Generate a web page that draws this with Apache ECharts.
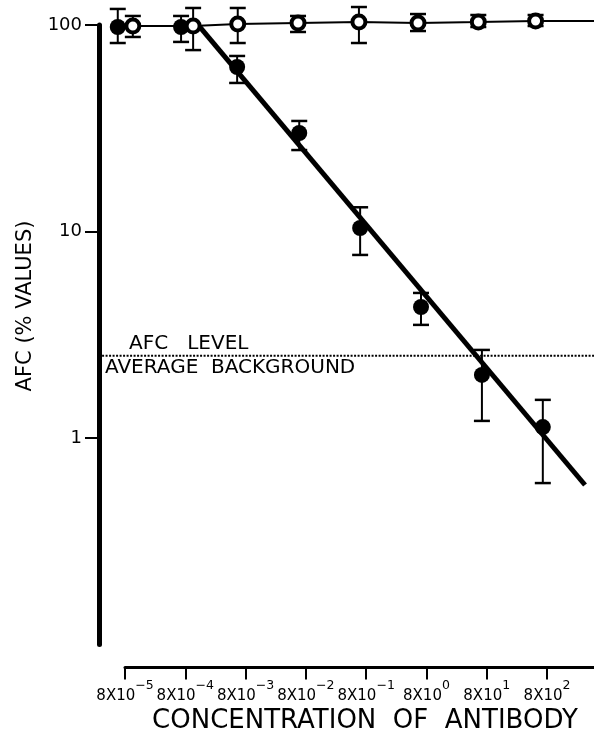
<!DOCTYPE html>
<html>
<head>
<meta charset="utf-8">
<script src="https://cdn.jsdelivr.net/npm/echarts@6/dist/echarts.min.js"></script>
<style>
html,body{margin:0;padding:0;background:#fff;}
#chart{width:594px;height:741px;}
</style>
</head>
<body>
<div id="chart"></div>
<script>
// x values are log10 of concentration exponent positions (8 x 10^n)
const expTicks = [-5, -4, -3, -2, -1, 0, 1, 2];
const expLabels = ['−5', '−4', '−3', '−2', '−1', '0', '1', '2'];

// filled circles (with antibody effect)
const filledX  = [-5.12, -4.07, -3.14, -2.11, -1.10, -0.09, 0.92, 1.93];
const filledY  = [97.8, 97.8, 62.6, 30.0, 10.4, 4.31, 2.02, 1.13];
const filledHi = [119.6, 110.6, 70.8, 34.3, 13.1, 5.04, 2.67, 1.53];
const filledLo = [81.8, 82.8, 52.4, 24.8, 7.7, 3.53, 1.21, 0.605];

// open circles (control)
const openX  = [-4.87, -3.87, -3.13, -2.13, -1.12, -0.14, 0.86, 1.81];
const openY  = [98.9, 98.9, 101.1, 102.3, 103.4, 102.3, 103.4, 104.6];
const openHi = [110.6, 120.9, 120.9, 110.6, 122.2, 113.0, 111.8, 111.8];
const openLo = [87.5, 75.6, 81.8, 92.5, 81.8, 93.5, 97.8, 98.9];
const openLineEnd = [2.78, 104.6];

// fitted regression line for filled circles
const fitX = [-3.76, 2.63];
const fitY = [98, 0.592];

// average background AFC level
const backgroundLevel = 2.5;
const backgroundX = [-5.38, 2.78];

const FONT = 'DejaVu Sans';
const chart = echarts.init(document.getElementById('chart'), null, {renderer: 'canvas'});

function errData(xs, lo, hi) {
  return xs.map((x, i) => [x, lo[i], hi[i]]);
}
function errRender(params, api) {
  const x = api.value(0);
  const top = api.coord([x, api.value(2)]);
  const bot = api.coord([x, api.value(1)]);
  const w = 8;
  return {
    type: 'group',
    children: [
      {type: 'line', shape: {x1: top[0], y1: top[1], x2: bot[0], y2: bot[1]}, style: {stroke: '#000', lineWidth: 2}},
      {type: 'line', shape: {x1: top[0] - w, y1: top[1], x2: top[0] + w, y2: top[1]}, style: {stroke: '#000', lineWidth: 2.5}},
      {type: 'line', shape: {x1: bot[0] - w, y1: bot[1], x2: bot[0] + w, y2: bot[1]}, style: {stroke: '#000', lineWidth: 2.5}}
    ]
  };
}
function levelRender(params, api) {
  const p1 = api.coord([api.value(0), api.value(2)]);
  const p2 = api.coord([api.value(1), api.value(2)]);
  return {
    type: 'line',
    shape: {x1: p1[0], y1: p1[1], x2: p2[0], y2: p2[1]},
    style: {stroke: '#000', lineWidth: 2, lineDash: [2, 1.5]}
  };
}

const option = {
  animation: false,
  backgroundColor: '#fff',
  grid: {left: 125, right: 0, top: 25, bottom: 96.5, outerBoundsMode: 'none', containLabel: false},
  xAxis: {
    type: 'value',
    min: -5, max: 2.779, interval: 1,
    offset: 23,
    splitLine: {show: false},
    axisLine: {show: true, onZero: false, lineStyle: {color: '#000', width: 3}},
    axisTick: {show: true, interval: 0, length: 12, lineStyle: {color: '#000', width: 2}, customValues: expTicks},
    axisLabel: {
      customValues: expTicks,
      interval: 0,
      showMinLabel: true,
      hideOverlap: false,
      margin: 12,
      formatter: function (v) {
        const i = expTicks.indexOf(Math.round(v));
        return '{b|8X10}{s|' + expLabels[i] + '}';
      },
      rich: {
        b: {fontFamily: FONT, fontSize: 15, color: '#000', lineHeight: 24, verticalAlign: 'bottom'},
        s: {fontFamily: FONT, fontSize: 12.5, color: '#000', lineHeight: 14, verticalAlign: 'top'}
      }
    }
  },
  yAxis: {
    type: 'log', logBase: 10,
    min: 0.1, max: 100,
    offset: 26,
    splitLine: {show: false},
    minorTick: {show: false},
    axisLine: {show: true, onZero: false, lineStyle: {color: '#000', width: 5}},
    axisTick: {show: true, length: 14, lineStyle: {color: '#000', width: 2}, customValues: [1, 10, 100]},
    axisLabel: {customValues: [1, 10, 100], margin: 17, fontFamily: FONT, fontSize: 18, color: '#000'}
  },
  series: [
    {
      type: 'custom', name: 'background', clip: false, silent: true,
      data: [[backgroundX[0], backgroundX[1], backgroundLevel]],
      encode: {x: [0, 1], y: 2},
      renderItem: levelRender, z: 1
    },
    {
      type: 'line', name: 'fit', clip: false, symbol: 'none', silent: true,
      data: fitX.map((x, i) => [x, fitY[i]]),
      lineStyle: {color: '#000', width: 5, opacity: 1}
    },
    {
      type: 'line', name: 'control line', clip: false, symbol: 'none', silent: true,
      data: openX.map((x, i) => [x, openY[i]]).concat([openLineEnd]),
      lineStyle: {color: '#000', width: 2, opacity: 1}
    },
    {
      type: 'custom', name: 'filled err', clip: false, silent: true,
      data: errData(filledX, filledLo, filledHi),
      encode: {x: 0, y: [1, 2]},
      renderItem: errRender, z: 3
    },
    {
      type: 'custom', name: 'open err', clip: false, silent: true,
      data: errData(openX, openLo, openHi),
      encode: {x: 0, y: [1, 2]},
      renderItem: errRender, z: 3
    },
    {
      type: 'scatter', name: 'filled', clip: false, silent: true,
      data: filledX.map((x, i) => [x, filledY[i]]),
      symbol: 'circle', symbolSize: 16,
      itemStyle: {color: '#000', borderWidth: 0, opacity: 1}, z: 5
    },
    {
      type: 'scatter', name: 'open', clip: false, silent: true,
      data: openX.map((x, i) => [x, openY[i]]),
      symbol: 'circle', symbolSize: 13,
      itemStyle: {color: '#fff', borderColor: '#000', borderWidth: 4, opacity: 1}, z: 6
    }
  ],
  graphic: [
    {type: 'text', x: 26, y: 306, rotation: Math.PI / 2,
     style: {text: 'AFC (% VALUES)', fontFamily: FONT, fontSize: 21, fill: '#000', align: 'center', verticalAlign: 'middle'}},
    {type: 'text', x: 129, y: 344,
     style: {text: 'AFC   LEVEL', fontFamily: FONT, fontSize: 20, fill: '#000', align: 'left', verticalAlign: 'middle'}},
    {type: 'text', x: 105, y: 368,
     style: {text: 'AVERAGE  BACKGROUND', fontFamily: FONT, fontSize: 20, fill: '#000', align: 'left', verticalAlign: 'middle'}},
    {type: 'text', x: 365, y: 721,
     style: {text: 'CONCENTRATION  OF  ANTIBODY', fontFamily: FONT, fontSize: 26, fill: '#000', align: 'center', verticalAlign: 'middle'}}
  ]
};
chart.setOption(option);
</script>
</body>
</html>
